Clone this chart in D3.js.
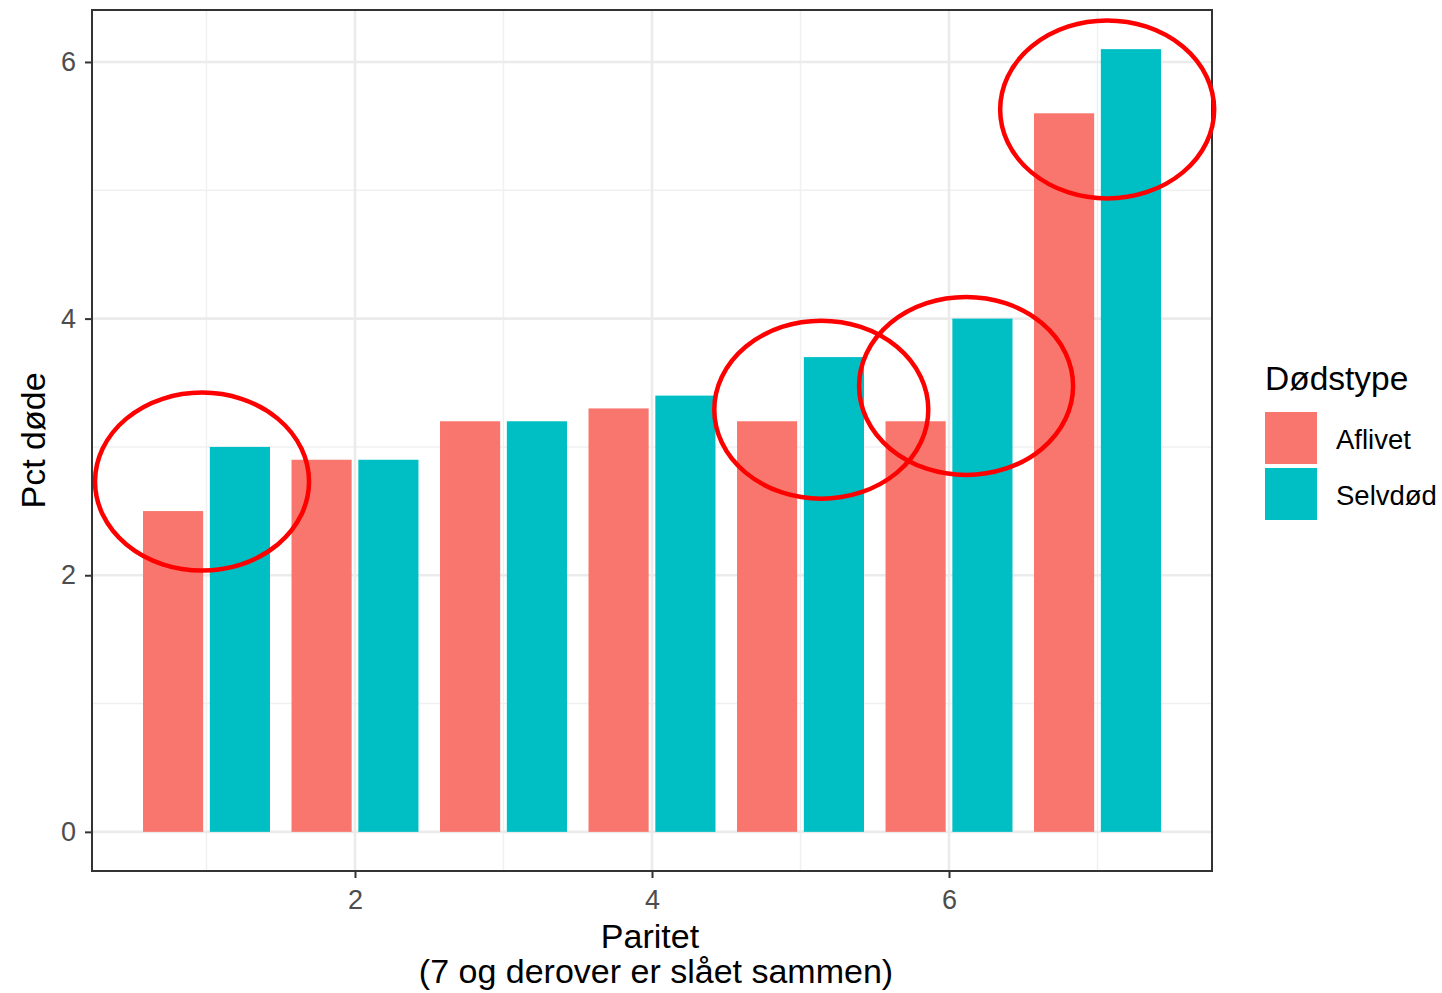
<!DOCTYPE html>
<html>
<head>
<meta charset="utf-8">
<script src="https://cdn.jsdelivr.net/npm/d3@7"></script>
<style>
  html, body { margin: 0; padding: 0; background: #fff; }
  svg { display: block; font-family: "Liberation Sans", Arial, Helvetica, sans-serif; }
</style>
</head>
<body>
<svg id="chart" width="1442" height="993"></svg>
<script>
// ---- data ----
const paritet = [1, 2, 3, 4, 5, 6, 7];
const aflivet = [2.5, 2.9, 3.2, 3.3, 3.2, 3.2, 5.6];
const selvdod = [3.0, 2.9, 3.2, 3.4, 3.7, 4.0, 6.1];
const seriesNames = ["Aflivet", "Selvdød"];
const seriesColors = ["#F8766D", "#00BFC4"];
const xTicks = [2, 4, 6];
const xMinor = [1, 3, 5, 7];
const yTicks = [0, 2, 4, 6];
const yMinor = [1, 3, 5];
// annotation ellipses (data coords of centre)
const circleX = [0.97, 5.14, 6.115, 7.065];
const circleY = [2.73, 3.29, 3.475, 5.63];

// ---- layout ----
const svg = d3.select("#chart");
const panel = { left: 92, right: 1212, top: 10, bottom: 871 };

const x = d3.scaleLinear().domain([0.229, 7.771]).range([panel.left, panel.right]);
const y = d3.scaleLinear().domain([-0.305, 6.405]).range([panel.bottom, panel.top]);

// dodge2 with padding 0.1 in a 0.9-wide group
const groupWidth = 0.9;
const nSeries = seriesNames.length;
const slot = groupWidth / nSeries;
const barW = slot * 0.9;
const sub = d3.scaleBand().domain(d3.range(nSeries)).range([-groupWidth / 2, groupWidth / 2]);

const rows = [];
paritet.forEach((p, i) => {
  [aflivet[i], selvdod[i]].forEach((v, s) => rows.push({ p, s, v }));
});

// grid
const grid = svg.append("g");
grid.selectAll(".ymin").data(yMinor).enter().append("line")
  .attr("x1", panel.left).attr("x2", panel.right)
  .attr("y1", d => y(d)).attr("y2", d => y(d))
  .attr("stroke", "#F0F0F0").attr("stroke-width", 1.5);
grid.selectAll(".xmin").data(xMinor).enter().append("line")
  .attr("y1", panel.top).attr("y2", panel.bottom)
  .attr("x1", d => x(d)).attr("x2", d => x(d))
  .attr("stroke", "#F0F0F0").attr("stroke-width", 1.5);
grid.selectAll(".ymaj").data(yTicks).enter().append("line")
  .attr("x1", panel.left).attr("x2", panel.right)
  .attr("y1", d => y(d)).attr("y2", d => y(d))
  .attr("stroke", "#EBEBEB").attr("stroke-width", 2.6);
grid.selectAll(".xmaj").data(xTicks).enter().append("line")
  .attr("y1", panel.top).attr("y2", panel.bottom)
  .attr("x1", d => x(d)).attr("x2", d => x(d))
  .attr("stroke", "#EBEBEB").attr("stroke-width", 2.6);

// bars
svg.append("g").selectAll("rect").data(rows).enter().append("rect")
  .attr("x", d => x(d.p + sub(d.s) + slot / 2 - barW / 2))
  .attr("width", d => x(barW) - x(0))
  .attr("y", d => y(d.v))
  .attr("height", d => y(0) - y(d.v))
  .attr("fill", d => seriesColors[d.s]);

// panel border
svg.append("rect")
  .attr("x", panel.left).attr("y", panel.top)
  .attr("width", panel.right - panel.left).attr("height", panel.bottom - panel.top)
  .attr("fill", "none").attr("stroke", "#333333").attr("stroke-width", 2);

// axes
const xAxis = d3.axisBottom(x).tickValues(xTicks).tickSize(7).tickPadding(12).tickFormat(d3.format("d"));
const gx = svg.append("g").attr("transform", `translate(0,${panel.bottom})`).call(xAxis);
gx.select(".domain").remove();
gx.selectAll(".tick line").attr("stroke", "#333333").attr("stroke-width", 2);
gx.selectAll(".tick text").attr("fill", "#4D4D4D").attr("font-size", 27)
  .attr("font-family", "Liberation Sans, Arial, sans-serif");

const yAxis = d3.axisLeft(y).tickValues(yTicks).tickSize(7).tickPadding(9).tickFormat(d3.format("d"));
const gy = svg.append("g").attr("transform", `translate(${panel.left},0)`).call(yAxis);
gy.select(".domain").remove();
gy.selectAll(".tick line").attr("stroke", "#333333").attr("stroke-width", 2);
gy.selectAll(".tick text").attr("fill", "#4D4D4D").attr("font-size", 27)
  .attr("font-family", "Liberation Sans, Arial, sans-serif");

// axis titles
const cx = (panel.left + panel.right) / 2;
svg.append("text").attr("x", cx - 2).attr("y", 948).attr("text-anchor", "middle")
  .attr("font-size", 34).attr("fill", "#000").text("Paritet");
svg.append("text").attr("x", cx + 4).attr("y", 983).attr("text-anchor", "middle")
  .attr("font-size", 34).attr("fill", "#000").text("(7 og derover er slået sammen)");
svg.append("text")
  .attr("transform", `translate(45,${(panel.top + panel.bottom) / 2}) rotate(-90)`)
  .attr("text-anchor", "middle").attr("font-size", 34).attr("fill", "#000").text("Pct døde");

// legend
const lg = svg.append("g").attr("transform", "translate(1265,0)");
lg.append("text").attr("x", 0).attr("y", 390).attr("font-size", 33.5).attr("fill", "#000").text("Dødstype");
const keys = lg.selectAll(".key").data(seriesNames).enter().append("g")
  .attr("transform", (d, i) => `translate(0,${412 + i * 56})`);
keys.append("rect").attr("width", 52).attr("height", 52)
  .attr("fill", (d, i) => seriesColors[i]);
keys.append("text").attr("x", 71).attr("y", 37).attr("font-size", 27.5).attr("fill", "#000").text(d => d);

// annotation ellipses
svg.append("g").selectAll("ellipse").data(circleX).enter().append("ellipse")
  .attr("cx", d => x(d))
  .attr("cy", (d, i) => y(circleY[i]))
  .attr("rx", 107).attr("ry", 89)
  .attr("fill", "none").attr("stroke", "#FF0000").attr("stroke-width", 4.5);
</script>
</body>
</html>
